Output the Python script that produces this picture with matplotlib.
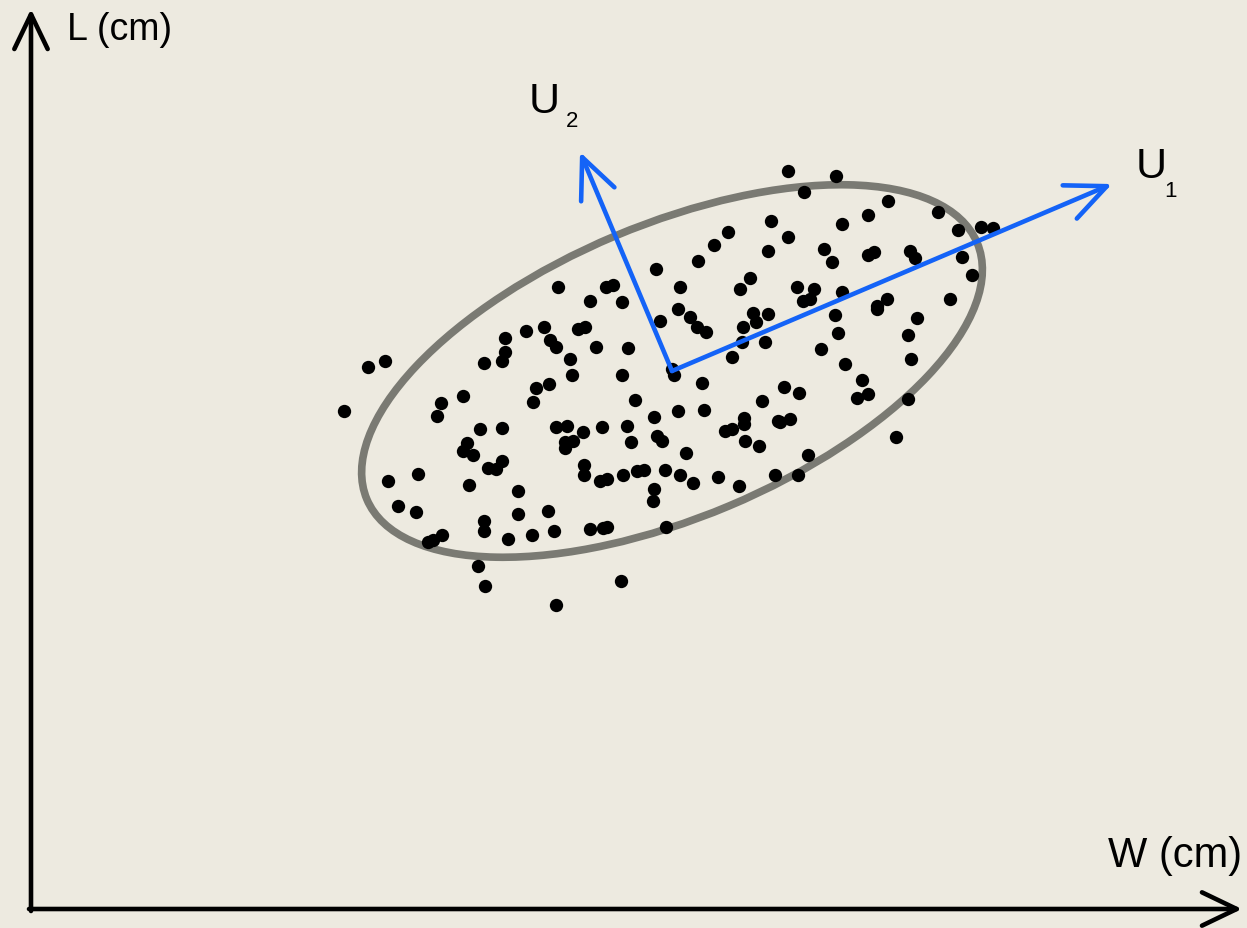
import numpy as np
import matplotlib.pyplot as plt
from matplotlib.patches import Ellipse

# sample positions (W, L), in drawing units (L grows downward)
W = [770.7, 727.7, 714, 768, 698, 656, 558, 606, 613, 590, 622, 680, 678, 750, 740, 753, 768,
     788, 836, 804, 888, 938, 958, 981, 993, 842, 868, 788, 824, 832, 868, 874, 910, 915, 962,
     972, 797, 814, 803, 810, 842, 887, 877, 950, 835, 917,
     368, 385, 344, 505, 526, 544, 550, 556, 505, 502, 484, 463, 441, 437, 536, 533, 549, 556,
     480, 502, 467, 463, 473, 502,
     660, 690, 697, 706, 578, 585, 596, 628, 570, 572, 622, 672, 674, 702, 635, 678, 704, 654,
     743, 756, 765, 742, 732, 762, 778, 744, 744, 725, 732, 745, 759, 567, 583, 602, 627, 565,
     573, 565, 631, 657, 662, 686, 584, 637, 644, 665,
     877, 838, 908, 821, 911, 845, 862, 857, 868, 784, 799, 780, 790, 908, 896, 808,
     418, 388, 469, 488, 496, 518, 398, 416, 518, 548, 484, 484, 508, 532, 554, 442, 428, 433,
     478, 485, 556,
     584, 600, 607, 623, 680, 693, 718, 739, 775, 654, 653, 590, 603, 607, 666, 621, 798]
L = [221.7, 232.7, 246, 251.7, 261.7, 270, 287.7, 288, 286, 302.3, 302.7, 287.7, 310, 279, 290, 314, 315,
     171.7, 176.7, 193.3, 201.7, 213.3, 231, 227.7, 229.3, 225, 216, 238.3, 250, 263.3, 256, 253, 251.7, 259.3, 257.7,
     276, 288.3, 290, 302, 300, 293.3, 300, 306.7, 300, 315.5, 319,
     368, 362, 411.7, 339.3, 332.3, 327.7, 341, 348, 353, 362, 364.3, 396.7, 404.3, 417.3, 389, 403, 385, 427.5,
     430, 429, 444.3, 451.7, 456, 462,
     322, 318, 328, 332.7, 330, 328, 347.7, 349, 360, 375.7, 375.7, 370, 376, 384, 400.7, 411.7, 410.7, 417.7,
     328.3, 323.3, 342.7, 343.3, 357.7, 401.7, 421.7, 419, 425, 432, 430, 442.3, 446.7, 427.3, 433.3, 428.3, 426.7, 443.3,
     441.7, 449.3, 443.3, 436.7, 441.7, 454, 465.5, 472, 471, 471,
     310, 334, 336, 350, 360, 365, 380.7, 399, 395, 388.3, 394.3, 423, 420, 400, 438.3, 456,
     475, 482.3, 486, 469.3, 470, 492.3, 506.7, 513.3, 515, 512, 522, 532, 540, 536, 531.7, 536, 543.3, 540.7,
     566.7, 587.3, 605.7,
     476, 482, 480, 475.7, 475.7, 484, 478.3, 487.3, 476, 490, 502.3, 530, 529.3, 528.3, 528.3, 581.7, 475.7]

center = (672, 372)
major, minor, tilt = 662, 293, 22.8
u1_tip = (1112, 185)
u2_tip = (580, 153)

bg = '#edeae0'
blue = '#1463f7'

fig = plt.figure(figsize=(12.47, 9.29), dpi=100, facecolor=bg)
ax = fig.add_axes([0, 0, 1, 1])
ax.set_facecolor(bg)
ax.set_xlim(0, 1247)
ax.set_ylim(929, 0)
ax.axis('off')

# W / L axes
axis_style = dict(arrowstyle='->,head_length=1.25,head_width=0.6', lw=3.3, color='black',
                  shrinkA=0, shrinkB=0, mutation_scale=20)
ax.annotate('', xy=(31, 10), xytext=(31, 912), arrowprops=axis_style)
ax.annotate('', xy=(1242, 910), xytext=(29, 910), arrowprops=axis_style)
ax.text(67, 30, 'L (cm)', fontsize=27, family='Liberation Sans', va='center', ha='left')
ax.text(1242, 856, 'W (cm)', fontsize=30, family='Liberation Sans', va='center', ha='right')

ax.add_patch(Ellipse(center, major, minor, angle=-tilt, fill=False, ec='#7a7a73', lw=5.5, zorder=2))
ax.scatter(W, L, s=92, color='black', lw=0, zorder=3)

# principal directions
u_style = dict(arrowstyle='->,head_length=1.45,head_width=0.65', lw=3.3, color=blue,
               shrinkA=0, shrinkB=0, mutation_scale=20)
ax.annotate('', xy=u1_tip, xytext=center, arrowprops=u_style, zorder=4)
ax.annotate('', xy=u2_tip, xytext=center, arrowprops=u_style, zorder=4)
ax.text(1136, 167, 'U', fontsize=31, family='Liberation Sans', va='center', ha='left')
ax.text(1164, 191, '1', fontsize=16, family='Liberation Sans', va='center', ha='left')
ax.text(529, 102, 'U', fontsize=31, family='Liberation Sans', va='center', ha='left')
ax.text(566, 121, '2', fontsize=16, family='Liberation Sans', va='center', ha='left')

fig.savefig('out.png', dpi=100, facecolor=bg)
